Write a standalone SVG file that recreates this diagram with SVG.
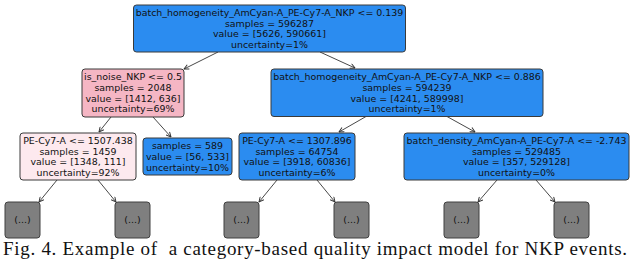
<svg xmlns="http://www.w3.org/2000/svg" width="640" height="269" viewBox="0 0 640 269">
<style>
.box{stroke:#3a3a3a;stroke-width:1}
.blue{fill:#2b8cf0}
.pink{fill:#f5b6c4}
.lpink{fill:#fde9ee}
.grey{fill:#7f7f7f;stroke:#404040;stroke-width:1}
.t{font-family:"DejaVu Sans",sans-serif;font-size:9.45px;fill:#111;text-anchor:middle}
.e{stroke:#333;stroke-width:0.9;fill:none;marker-end:url(#ah)}
.cap{font-family:"Liberation Serif",serif;font-size:19px;fill:#111}
</style>
<defs>
<marker id="ah" viewBox="0 0 10 10" refX="9" refY="5" markerWidth="6" markerHeight="6" orient="auto" markerUnits="userSpaceOnUse">
<path d="M1,1 L9,5 L1,9" fill="none" stroke="#333" stroke-width="1.6"/>
</marker>
</defs>
<rect width="640" height="269" fill="#fff"/>
<g id="connectors">
<line class="e" x1="218" y1="52" x2="184" y2="69"/>
<line class="e" x1="320" y1="52" x2="355" y2="68"/>
<line class="e" x1="111" y1="117" x2="99" y2="132"/>
<line class="e" x1="153" y1="117" x2="171" y2="137"/>
<line class="e" x1="366" y1="116.5" x2="339" y2="132"/>
<line class="e" x1="447" y1="116.5" x2="475" y2="132"/>
<line class="e" x1="57" y1="180" x2="39" y2="202"/>
<line class="e" x1="98" y1="180" x2="116" y2="202"/>
<line class="e" x1="277" y1="180" x2="259" y2="202"/>
<line class="e" x1="317" y1="180" x2="335" y2="202"/>
<line class="e" x1="497" y1="180" x2="478" y2="202"/>
<line class="e" x1="536" y1="180" x2="555" y2="202"/>
</g>
<g id="root">
<rect class="box blue" x="133.5" y="5" width="272" height="47" rx="3"/>
<text class="t" x="269.5" y="16">batch_homogeneity_AmCyan-A_PE-Cy7-A_NKP &lt;= 0.139</text>
<text class="t" x="269.5" y="26.7">samples = 596287</text>
<text class="t" x="269.5" y="37.4">value = [5626, 590661]</text>
<text class="t" x="269.5" y="48">uncertainty=1%</text>
</g>
<g id="n_noise">
<rect class="box pink" x="82" y="69" width="102" height="48" rx="3"/>
<text class="t" x="133" y="80">is_noise_NKP &lt;= 0.5</text>
<text class="t" x="133" y="90.8">samples = 2048</text>
<text class="t" x="133" y="101.6">value = [1412, 636]</text>
<text class="t" x="133" y="112.3">uncertainty=69%</text>
</g>
<g id="n_hom2">
<rect class="box blue" x="271" y="69" width="272" height="47.5" rx="3"/>
<text class="t" x="407" y="80">batch_homogeneity_AmCyan-A_PE-Cy7-A_NKP &lt;= 0.886</text>
<text class="t" x="407" y="90.8">samples = 594239</text>
<text class="t" x="407" y="101.6">value = [4241, 589998]</text>
<text class="t" x="407" y="112.3">uncertainty=1%</text>
</g>
<g id="n_pe1">
<rect class="box lpink" x="20" y="133" width="116" height="47" rx="3"/>
<text class="t" x="78" y="144">PE-Cy7-A &lt;= 1507.438</text>
<text class="t" x="78" y="154.7">samples = 1459</text>
<text class="t" x="78" y="165.4">value = [1348, 111]</text>
<text class="t" x="78" y="176.1">uncertainty=92%</text>
</g>
<g id="n_leaf589">
<rect class="box blue" x="143" y="138" width="89" height="37" rx="3"/>
<text class="t" x="187.5" y="149.3">samples = 589</text>
<text class="t" x="187.5" y="160">value = [56, 533]</text>
<text class="t" x="187.5" y="170.7">uncertainty=10%</text>
</g>
<g id="n_pe2">
<rect class="box blue" x="239" y="133" width="116" height="47" rx="3"/>
<text class="t" x="297" y="144">PE-Cy7-A &lt;= 1307.896</text>
<text class="t" x="297" y="154.7">samples = 64754</text>
<text class="t" x="297" y="165.4">value = [3918, 60836]</text>
<text class="t" x="297" y="176.1">uncertainty=6%</text>
</g>
<g id="n_density">
<rect class="box blue" x="404" y="133" width="225" height="47" rx="3"/>
<text class="t" x="516.5" y="144">batch_density_AmCyan-A_PE-Cy7-A &lt;= -2.743</text>
<text class="t" x="516.5" y="154.7">samples = 529485</text>
<text class="t" x="516.5" y="165.4">value = [357, 529128]</text>
<text class="t" x="516.5" y="176.1">uncertainty=0%</text>
</g>
<g id="leaf1"><rect class="grey" x="5" y="202" width="35" height="36" rx="3"/><text class="t" x="22.5" y="223">(...)</text></g>
<g id="leaf2"><rect class="grey" x="115" y="202" width="35" height="36" rx="3"/><text class="t" x="132.5" y="223">(...)</text></g>
<g id="leaf3"><rect class="grey" x="224" y="202" width="35" height="36" rx="3"/><text class="t" x="241.5" y="223">(...)</text></g>
<g id="leaf4"><rect class="grey" x="334" y="202" width="35" height="36" rx="3"/><text class="t" x="351.5" y="223">(...)</text></g>
<g id="leaf5"><rect class="grey" x="444" y="202" width="35" height="36" rx="3"/><text class="t" x="461.5" y="223">(...)</text></g>
<g id="leaf6"><rect class="grey" x="554" y="202" width="35" height="36" rx="3"/><text class="t" x="571.5" y="223">(...)</text></g>
<text class="cap" x="3" y="255" textLength="624" lengthAdjust="spacing" xml:space="preserve">Fig. 4. Example of  a category-based quality impact model for NKP events.</text>
</svg>
